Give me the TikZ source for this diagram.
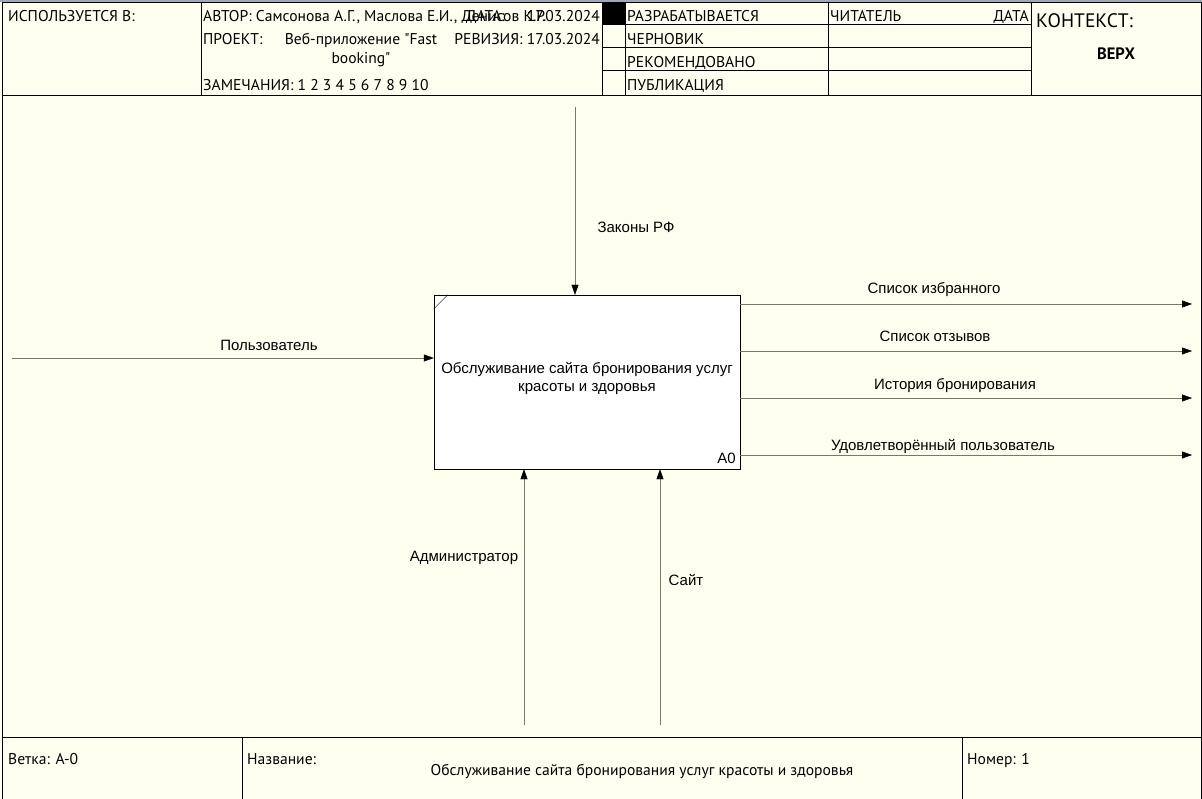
\documentclass[tikz,border=0pt]{standalone}
\usepackage{fontspec}
\setmainfont{Liberation Sans}
\newfontfamily\hdrfont{PT Sans}
\definecolor{idefbg}{RGB}{255,255,240}
\definecolor{idefline}{RGB}{120,120,104}
\definecolor{ideftop}{RGB}{160,168,184}
\usetikzlibrary{arrows.meta,positioning,calc}

\tikzset{
  hdr/.style={font=\hdrfont\fontsize{15.6}{19}\selectfont, inner sep=0pt, anchor=base west},
  lbl/.style={font=\fontsize{15}{18}\selectfont, inner sep=0pt, anchor=base},
  flow/.style={draw=idefline, -{Triangle[length=10pt,width=7pt,color=black]}},
  frameline/.style={draw=black, line width=1pt}
}

\begin{document}
\begin{tikzpicture}[x=1pt,y=-1pt]
  \useasboundingbox (0,0) rectangle (1202,799);
  % Sheet
  \fill[idefbg] (0,0) rectangle (1202,799);
  \fill[ideftop] (0,0) rectangle (1202,2);
  \draw[frameline] (2,799) -- (2,3) -- (1201,3) -- (1201,799);
  % Header grid
  \draw[frameline] (2,96) -- (1201,96);
  \foreach \x in {201,602,625,828,1031} \draw[frameline] (\x,3) -- (\x,96);
  \foreach \y in {25,48,71} \draw[frameline] (602,\y) -- (1031,\y);
  \fill (602,3) rectangle (625,25);
  % Header texts
  \node[hdr] (usedin) at (8,22) {ИСПОЛЬЗУЕТСЯ В:};
  \node[hdr] (author) at (203,22) {АВТОР: Самсонова А.Г., Маслова Е.И., Денисов К.Р.};
  \node[hdr] (datekey) at (466,22) {ДАТА:};
  \node[hdr, anchor=base east] (dateval) at (600,22) {17.03.2024};
  \node[hdr] (project) at (203,45) {ПРОЕКТ:};
  \node[hdr, anchor=base, align=center] (projname) at (361,64) {Веб-приложение "Fast\\booking"};
  \node[hdr, anchor=base east] (revision) at (600,45) {РЕВИЗИЯ: 17.03.2024};
  \node[hdr] (notes) at (203,91) {ЗАМЕЧАНИЯ: 1 2 3 4 5 6 7 8 9 10};
  \node[hdr] (working) at (627,22) {РАЗРАБАТЫВАЕТСЯ};
  \node[hdr] (draft) at (627,45) {ЧЕРНОВИК};
  \node[hdr] (recommended) at (627,68) {РЕКОМЕНДОВАНО};
  \node[hdr] (publication) at (627,91) {ПУБЛИКАЦИЯ};
  \node[hdr] (reader) at (830,22) {ЧИТАТЕЛЬ};
  \node[hdr, anchor=base east] (readerdate) at (1029,22) {ДАТА};
  \node[hdr, font=\hdrfont\fontsize{19.5}{22}\selectfont] (context) at (1036,28) {КОНТЕКСТ:};
  \node[hdr, anchor=base, font=\hdrfont\bfseries\fontsize{16.5}{20}\selectfont] (top) at (1116,60) {ВЕРХ};
  % Footer
  \draw[frameline] (2,737) -- (1201,737);
  \draw[frameline] (242,737) -- (242,799);
  \draw[frameline] (962,737) -- (962,799);
  \node[hdr] (branch) at (8,764) {Ветка: А-0};
  \node[hdr] (titlekey) at (247,764) {Название:};
  \node[hdr, anchor=base] (titleval) at (642,775) {Обслуживание сайта бронирования услуг красоты и здоровья};
  \node[hdr] (number) at (967,764) {Номер: 1};
  % Activity A0
  \node[draw, fill=white, minimum width=306pt, minimum height=174pt, inner sep=0pt] (A0) at (587,382) {};
  \draw (A0.north west) ++(0,14) -- ++(14,-14);
  \node[lbl, align=center, anchor=center] (A0text) at (587,378) {Обслуживание сайта бронирования услуг\\красоты и здоровья};
  \node[lbl, anchor=base east] (A0num) at (736,463) {A0};
  % Control
  \coordinate (laws) at (575,107);
  \draw[flow] (laws) -- (laws |- A0.north);
  \node[lbl] (lawslbl) at (636,233) {Законы РФ};
  % Input
  \coordinate (user) at (12,358);
  \draw[flow] (user) -- (user -| A0.west);
  \node[lbl] (userlbl) at (269,351) {Пользователь};
  % Outputs
  \foreach \n/\y in {fav/304,reviews/351,history/398,happy/455} {
    \coordinate (\n) at (1192,\y);
    \draw[flow] (\n -| A0.east) -- (\n);
  }
  \node[lbl] (favlbl) at (934,294) {Список избранного};
  \node[lbl] (reviewslbl) at (935,342) {Список отзывов};
  \node[lbl] (historylbl) at (955,389) {История бронирования};
  \node[lbl] (happylbl) at (943,450) {Удовлетворённый пользователь};
  % Mechanisms
  \coordinate (admin) at (524,725);
  \coordinate (site) at (660,725);
  \draw[flow] (admin) -- (admin |- A0.south);
  \draw[flow] (site) -- (site |- A0.south);
  \node[lbl] (adminlbl) at (464,561) {Администратор};
  \node[lbl] (sitelbl) at (686,585) {Сайт};
\end{tikzpicture}
\end{document}
